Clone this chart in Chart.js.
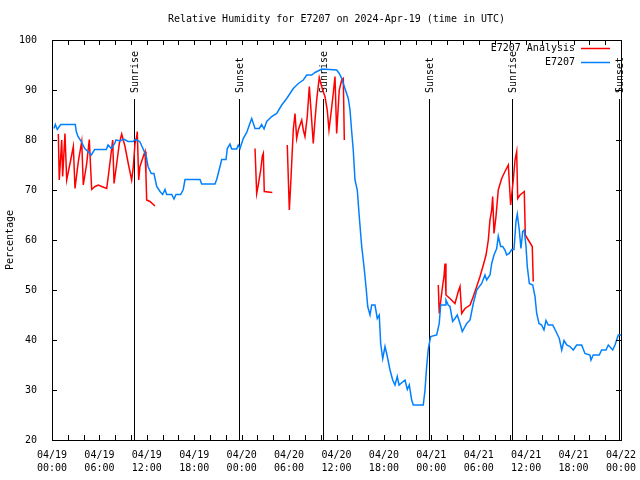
<!DOCTYPE html>
<html>
<head>
<meta charset="utf-8">
<script src="https://cdn.jsdelivr.net/npm/chart.js@4.4.1/dist/chart.umd.min.js"></script>
<style>
  html, body { margin: 0; padding: 0; background: #fff; }
</style>
</head>
<body>
<canvas id="rhChart" width="640" height="480"></canvas>
<script>
// hours since 2024-04-19 00:00 UTC
const stationHours = [0.25, 0.42, 0.67, 1.1, 2.95, 3.07, 3.29, 3.71, 4.14, 4.56, 4.97, 5.4, 6.87, 7.09, 7.5, 7.93,
  8.1, 8.6, 9.1, 9.62, 10.25, 10.54, 11.1, 11.51, 11.93, 12.15, 12.56, 12.9, 13.25, 13.67, 14.0, 14.3, 14.51,
  15.15, 15.44, 15.69, 16.28, 16.61, 16.83, 18.73, 18.94, 20.62, 20.84, 21.26, 21.47, 22.02, 22.18, 22.52, 22.74,
  23.37, 23.57, 23.79, 24.2, 24.64, 24.97, 25.27, 25.69, 26.23, 26.53, 26.83, 27.17, 27.8, 28.43, 29.07, 29.7,
  30.53, 31.17, 31.8, 32.23, 32.86, 33.28, 34.13, 36.02, 36.35, 36.66, 37.07, 37.49, 37.71, 37.92, 38.12, 38.34,
  38.63, 38.88, 39.19, 39.48, 39.73, 39.95, 40.24, 40.45, 40.87, 41.16, 41.41, 41.59, 41.85, 42.14, 42.43, 42.77,
  43.11, 43.4, 43.69, 43.91, 44.67, 44.96, 45.21, 45.51, 45.72, 46.98, 47.2, 47.41, 47.62, 47.92, 48.68, 49.0,
  49.18, 49.73, 49.85, 50.14, 50.36, 50.7, 50.99, 51.28, 51.63, 51.92, 52.48, 52.9, 53.31, 53.74, 54.37, 54.79,
  55.0, 55.42, 55.64, 55.93, 56.27, 56.47, 56.77, 57.03, 57.32, 57.53, 57.86, 58.17, 58.46, 58.71, 58.88, 59.13,
  59.34, 59.56, 59.76, 59.98, 60.14, 60.4, 60.83, 61.12, 61.33, 61.62, 61.96, 62.25, 62.51, 62.8, 63.36, 63.77,
  64.19, 64.5, 64.79, 65.13, 65.54, 65.96, 66.39, 67.02, 67.44, 68.07, 68.2, 68.49, 69.25, 69.55, 70.1, 70.39,
  70.95, 71.24, 71.66, 72.0];
const stationRH = [82.3, 83.1, 82.1, 83.1, 83.1, 81.7, 80.7, 79.7, 78.3, 77.7, 77, 78.1, 78.1, 79, 78.3, 79.3,
  80, 79.8, 80.2, 79.7, 79.7, 80.1, 79.7, 78.3, 76.7, 74.7, 73.3, 73.3, 70.7, 69.7, 69.1, 70.1, 69.1,
  69.1, 68.2, 69.1, 69.1, 70.1, 72.1, 72.1, 71.2, 71.2, 72.1, 74.7, 76.1, 76.1, 78.3, 79.2, 78.2,
  78.2, 79, 78.3, 80.3, 81.5, 83, 84.3, 82.3, 82.3, 83.1, 82.2, 83.7, 84.7, 85.3, 87, 88.3,
  90.3, 91.3, 92, 93, 93, 93.5, 94.2, 94, 93.3, 92.3, 90.3, 88.3, 86, 81.7, 78, 72,
  70, 64.7, 58.7, 54.7, 50.7, 46.7, 45, 47, 47, 44.3, 45, 39.3, 36.3, 38.7, 36.7, 34,
  32, 31, 32.7, 31, 32, 30.1, 31, 28, 27, 27, 30, 34.7, 38.3, 40.7, 41, 43.3,
  47, 47, 48, 47, 46.7, 43.7, 44.3, 45, 43.3, 41.7, 43.3, 44, 47.3, 50, 51.3, 53,
  52, 53, 55.3, 57, 58.3, 60.8, 58.7, 58.7, 58, 57, 57.3, 58.1, 58.1, 63.7, 65.2, 62,
  58.3, 61.7, 62, 58.7, 54.7, 51.3, 51, 48.7, 45.3, 43.3, 43, 42, 43.9, 43, 43, 41.7,
  40.3, 38, 39.9, 39, 38.7, 38, 39, 39, 37.3, 37, 36, 37, 37, 38, 38, 39,
  38, 39, 41, 41];

// null values break the analysis line where it has no data
const analysisHours = [0.8, 0.92, 1.1, 1.23, 1.35, 1.64, 1.86, 2.28, 2.7, 2.91, 3.33, 3.76, 3.96, 4.39, 4.72,
  5.02, 5.44, 5.86, 6.29, 6.92, 7.12, 7.43, 7.68, 7.85, 8.19, 8.52, 8.82, 9.24, 9.65, 10.08, 10.29, 10.5,
  10.72, 10.79, 10.97, 11.13, 11.55, 11.77, 11.89, 11.98, 12.4, 13.03,
  20,
  25.69, 25.9, 26.1, 26.41, 26.61, 26.74, 26.86, 27.88,
  29,
  29.77, 30.03, 30.2, 30.33, 30.53, 30.75, 30.96, 31.17, 31.38, 31.6, 31.8, 32.01, 32.3, 32.56, 32.77, 33.06,
  33.28, 33.49, 33.82, 34.25, 34.54, 34.83, 35.05, 35.3, 35.59, 35.81, 36.02, 36.35, 36.66, 36.86, 36.99,
  42,
  48.88, 49.0, 49.18, 49.31, 49.44, 49.6, 49.73, 49.85, 50.36, 50.99, 51.41, 51.63, 51.84, 52.26, 52.9, 53.31,
  53.74, 54.16, 54.58, 54.92, 55.21, 55.42, 55.64, 55.76, 55.93, 56.18, 56.47, 56.9, 57.32, 57.74, 57.95, 58.04,
  58.17, 58.37, 58.59, 58.8, 58.93, 59.22, 59.76, 59.89, 60.27, 60.77, 60.9];
const analysisRH = [81.2, 72, 76.7, 80, 72.7, 81.3, 72, 75.3, 78.7, 70.3, 75.7, 79.7, 71, 75.3, 80.1,
  70.1, 70.7, 71, 70.7, 70.3, 72.7, 76.7, 80, 71.3, 75.3, 79.3, 81.2, 78.7, 75.3, 72, 74.7, 79.3,
  80.7, 81.7, 72, 74.7, 76.7, 77.7, 73, 68, 67.7, 66.8,
  null,
  78.3, 69.3, 71, 74, 76.7, 77.3, 69.7, 69.5,
  null,
  79, 66, 71, 75.3, 82, 85.3, 80.3, 82, 83, 84, 82, 80.7, 84.7, 90.7, 86, 79.3,
  84, 88, 92.5, 90, 88.7, 86, 82, 85.3, 89.3, 92.7, 81.3, 90, 92, 92.3, 80,
  null,
  51, 45.3, 47.7, 49.3, 51, 52.7, 55.3, 49, 48.3, 47.3, 49.7, 50.7, 45.3, 46.3, 47, 48.7,
  50.7, 52.7, 55, 57, 60, 64, 66, 68.7, 61.3, 64.7, 70, 72.3, 73.7, 75, 69.3, 67,
  69, 72, 76, 77.7, 68.3, 69, 69.7, 61, 60, 58.7, 51.7];

const tickDates = ['04/19', '04/19', '04/19', '04/19', '04/20', '04/20', '04/20', '04/20',
  '04/21', '04/21', '04/21', '04/21', '04/22'];
const tickTimes = ['00:00', '06:00', '12:00', '18:00', '00:00', '06:00', '12:00', '18:00',
  '00:00', '06:00', '12:00', '18:00', '00:00'];

const sunHours = [10.41, 23.7, 34.33, 47.74, 58.24, 71.75];
const sunLabels = ['Sunrise', 'Sunset', 'Sunrise', 'Sunset', 'Sunrise', 'Sunset'];

const RED = 'rgb(255,0,0)';
const BLUE = 'rgb(0,128,255)';
const FONT = '10px "DejaVu Sans Mono", "Liberation Mono", monospace';

const toPoints = (hs, vs) => hs.map((h, i) => ({ x: h, y: vs[i] }));

// gnuplot style decorations: frame, inward ticks, sun lines, title, legend
const gnuplotLook = {
  id: 'gnuplotLook',
  beforeDatasetsDraw(chart) {
    const { ctx, chartArea: a, scales: { x } } = chart;
    ctx.save();
    ctx.strokeStyle = '#000';
    ctx.fillStyle = '#000';
    ctx.lineWidth = 1;
    ctx.font = FONT;
    sunHours.forEach((h, i) => {
      const px = Math.round(x.getPixelForValue(h)) + 0.5;
      ctx.beginPath();
      ctx.moveTo(px, a.top + 59);
      ctx.lineTo(px, a.bottom);
      ctx.stroke();
      ctx.save();
      ctx.translate(px + 1, a.top + 53);
      ctx.rotate(-Math.PI / 2);
      ctx.textAlign = 'left';
      ctx.textBaseline = 'middle';
      ctx.fillText(sunLabels[i], 0, 0);
      ctx.restore();
    });
    ctx.restore();
  },
  afterDatasetsDraw(chart) {
    const { ctx, chartArea: a, scales: { x, y } } = chart;
    ctx.save();
    ctx.strokeStyle = '#000';
    ctx.fillStyle = '#000';
    ctx.lineWidth = 1;
    ctx.strokeRect(a.left + 0.5, a.top + 0.5, a.right - a.left, a.bottom - a.top);

    ctx.beginPath();
    for (let h = 2; h < 72; h += 2) {
      const px = Math.round(x.getPixelForValue(h)) + 0.5;
      ctx.moveTo(px, a.bottom); ctx.lineTo(px, a.bottom - 5);
      ctx.moveTo(px, a.top); ctx.lineTo(px, a.top + 5);
    }
    for (let v = 30; v < 100; v += 10) {
      const py = Math.round(y.getPixelForValue(v)) + 0.5;
      ctx.moveTo(a.left, py); ctx.lineTo(a.left + 5, py);
      ctx.moveTo(a.right, py); ctx.lineTo(a.right - 5, py);
    }
    ctx.stroke();

    ctx.font = FONT;
    ctx.textBaseline = 'middle';
    ctx.textAlign = 'center';
    ctx.fillText('Relative Humidity for E7207 on 2024-Apr-19 (time in UTC)', (a.left + a.right) / 2, 19);

    ctx.save();
    ctx.translate(10, (a.top + a.bottom) / 2);
    ctx.rotate(-Math.PI / 2);
    ctx.fillText('Percentage', 0, 0);
    ctx.restore();

    const legend = [['E7207 Analysis', RED, 48.5], ['E7207', BLUE, 62.5]];
    ctx.textAlign = 'right';
    legend.forEach(([txt, col, ly]) => {
      ctx.fillStyle = '#000';
      ctx.fillText(txt, 575, ly);
      ctx.strokeStyle = col;
      ctx.lineWidth = 1.5;
      ctx.beginPath();
      ctx.moveTo(581, ly);
      ctx.lineTo(610, ly);
      ctx.stroke();
    });
    ctx.restore();
  }
};

new Chart(document.getElementById('rhChart'), {
  type: 'line',
  data: {
    datasets: [
      {
        label: 'E7207 Analysis',
        data: toPoints(analysisHours, analysisRH),
        borderColor: RED,
        borderWidth: 1.5,
        pointRadius: 0,
        tension: 0,
        spanGaps: false,
        order: 1
      },
      {
        label: 'E7207',
        data: toPoints(stationHours, stationRH),
        borderColor: BLUE,
        borderWidth: 1.5,
        pointRadius: 0,
        tension: 0,
        order: 0
      }
    ]
  },
  options: {
    responsive: false,
    animation: false,
    layout: { padding: { top: 40, right: 19, left: 0, bottom: 0 } },
    plugins: {
      legend: { display: false },
      tooltip: { enabled: false }
    },
    scales: {
      x: {
        type: 'linear',
        min: 0,
        max: 72,
        grid: { display: false },
        border: { display: false },
        afterFit: (s) => { s.height = 40; },
        ticks: {
          stepSize: 6,
          maxRotation: 0,
          autoSkip: false,
          padding: 1,
          color: '#000',
          font: { family: '"DejaVu Sans Mono", monospace', size: 10, lineHeight: 1.3 },
          callback: (v) => {
            const i = Math.round(v / 6);
            return [tickDates[i], tickTimes[i]];
          }
        }
      },
      y: {
        min: 20,
        max: 100,
        grid: { display: false },
        border: { display: false },
        afterFit: (s) => { s.width = 52; },
        ticks: {
          stepSize: 10,
          padding: 7,
          color: '#000',
          font: { family: '"DejaVu Sans Mono", monospace', size: 10 }
        }
      }
    }
  },
  plugins: [gnuplotLook]
});
</script>
</body>
</html>
